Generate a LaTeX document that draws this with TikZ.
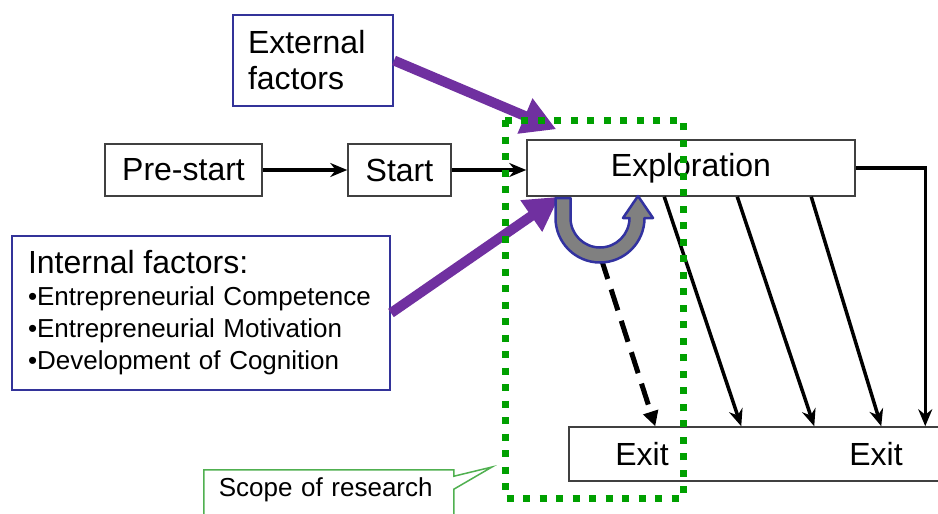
\documentclass[tikz,border=0pt]{standalone}
\usepackage{fontspec}
\setmainfont{Liberation Sans}
\usetikzlibrary{arrows.meta,calc,shapes.callouts}

\definecolor{factorblue}{RGB}{51,51,153}
\definecolor{factorpurple}{RGB}{112,48,160}
\definecolor{scopegreen}{RGB}{0,160,0}
\definecolor{calloutgreen}{RGB}{80,176,80}
\definecolor{uturngray}{RGB}{128,128,128}
\definecolor{uturnblue}{RGB}{50,50,160}

\begin{document}
\begin{tikzpicture}[x=1pt,y=-1pt]
\tikzstyle{stagebox}=[draw=black!75,line width=1.5pt,fill=white,font=\fontsize{32}{38}\selectfont,inner sep=0pt];
\tikzstyle{exitlabel}=[font=\fontsize{32}{38}\selectfont,inner sep=0pt];
\tikzstyle{factorbox}=[draw=factorblue,line width=2pt,fill=white,align=left,inner xsep=15pt,inner ysep=0pt];
\tikzstyle{flowarrow}=[line width=3.5pt,-{Stealth[length=17pt,width=14pt]}];
\tikzstyle{factorarrow}=[factorpurple,line width=10pt,-{Triangle[length=34pt,width=36pt]}];
\clip (0,0) rectangle (938,514);

% stages
\node[stagebox,minimum width=157pt,minimum height=52pt] (prestart) at (183.5,170) {Pre-start};
\node[stagebox,minimum width=103pt,minimum height=52pt] (start) at (399.5,170) {Start};
\node[stagebox,minimum width=328pt,minimum height=56pt] (expl) at (691,168) {Exploration};
\node[stagebox,minimum width=381pt,minimum height=54pt] (exitbox) at (759.5,454) {};
\node[exitlabel] (exitl) at (642,454) {Exit};
\node[exitlabel] (exitr) at (876,454) {Exit};

% factors
\node[factorbox,text width=130pt,minimum height=91pt,font=\fontsize{32}{36}\selectfont] (extf) at (313,60.5) {External\\factors};
\node[factorbox,text width=346pt,inner xsep=16pt,minimum height=154pt,font=\fontsize{26}{32}\selectfont] (intf) at (201,313)
  {{\fontsize{32}{36}\selectfont Internal factors:}\\
   \textbullet Entrepreneurial Competence\\
   \textbullet Entrepreneurial Motivation\\
   \textbullet Development of Cognition};

% flow
\draw[flowarrow] (prestart) -- (start);
\draw[flowarrow] (start.east) -- (start.east -| expl.west);
\foreach \a/\b in {138/173,211/246,285/313}
  \draw[flowarrow] ($(expl.south west)+(\a,0)$) -- ($(exitbox.north west)+(\b,0)$);
\draw[flowarrow] (expl.east) -| ($(exitbox.north west)+(357,0)$);

% influences
\coordinate (exttip) at ($(expl.north west)+(30,-10)$);
\draw[factorarrow] (extf.east) -- (exttip);
\draw[factorarrow] (intf.east) -- ($(expl.south west)+(33,0)$);

% early exit and loop
\coordinate (ubottom) at (601,258);
\draw[line width=5pt,dash pattern=on 22pt off 11pt,-{Triangle[length=15pt,width=15pt]}] (ubottom) -- ($(exitbox.north west)+(87,0)$);
\filldraw[fill=uturngray,draw=uturnblue,line width=2.5pt,line join=round]
  (555.5,198) -- (555.5,218) arc[start angle=180,end angle=360,radius=44.5pt]
  -- (653,218) -- (638,196) -- (623,218) -- (629.5,218)
  arc[start angle=0,end angle=-180,radius=29.5pt] -- (570.5,198) -- cycle;

% scope
\draw[scopegreen,line width=7pt,dash pattern=on 7pt off 9.5pt] (505,120) rectangle (683,498);
\node[rectangle callout,draw=calloutgreen,line width=1.5pt,fill=white,anchor=north west,
  font=\fontsize{26}{30}\selectfont,inner xsep=15pt,inner ysep=8pt,text depth=18pt,text width=220pt,
  callout absolute pointer={(492,467)},callout pointer width=13pt] (scope) at (203,469) {Scope of research};
\end{tikzpicture}
\end{document}
